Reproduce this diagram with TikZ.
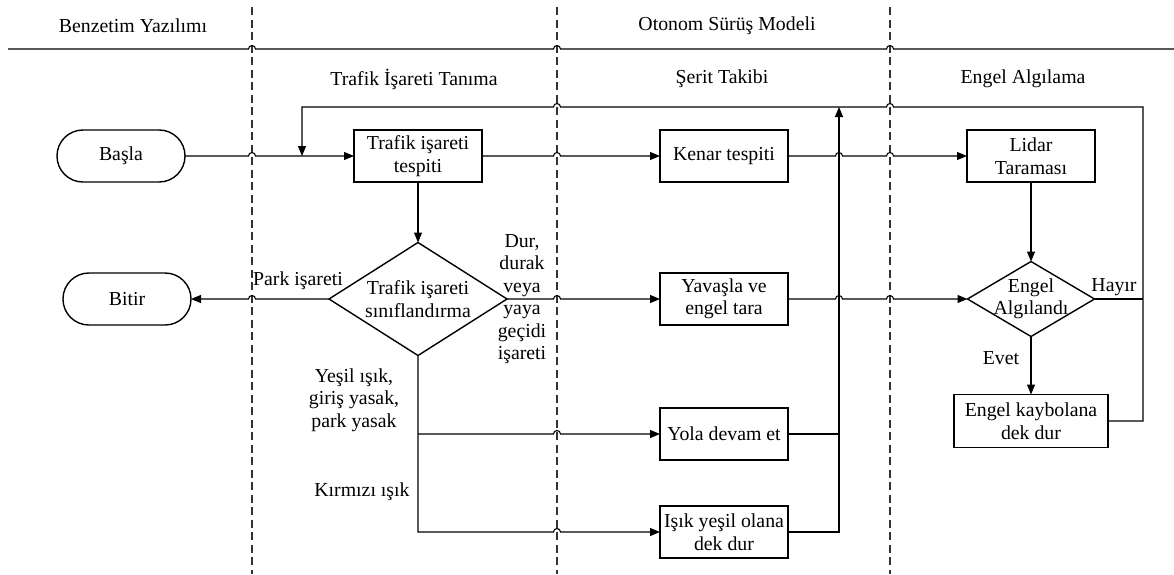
\documentclass[tikz,border=0pt]{standalone}
\usepackage{fontspec}
\setmainfont{Liberation Serif}
\usetikzlibrary{arrows.meta}
\newcommand\hopR[2]{-- (#1-3.5,#2) arc[start angle=180,end angle=0,radius=3.5pt]}
\newcommand\hopL[2]{-- (#1+3.5,#2) arc[start angle=0,end angle=180,radius=3.5pt]}
\begin{document}
\begin{tikzpicture}[x=1pt,y=-1pt,
  font=\fontsize{19.8}{22.5}\selectfont,
  box/.style={draw, line width=1.4pt, minimum width=128pt, minimum height=52pt, align=center, inner sep=2pt, outer sep=0pt},
  term/.style={box, rounded corners=25.9pt},
  dtext/.style={align=center, inner sep=0pt, outer sep=0pt},
  dline/.style={line width=1.4pt, line join=miter},
  ln/.style={line width=1.1pt},
  arr/.style={ln, -{Triangle[length=10pt,width=8pt]}},
  lane/.style={draw=black!80, line width=1.1pt, dash pattern=on 8pt off 4.5pt},
  lbl/.style={inner sep=0pt, align=center}]
\useasboundingbox (0,0) rectangle (1174,574);

% lanes
\draw[lane] (252,7) -- (252,574);
\draw[lane] (557,7) -- (557,574);
\draw[lane] (890,7) -- (890,574);
\draw[ln] (8,49) \hopR{252}{49} \hopR{557}{49} \hopR{890}{49} -- (1174,49);

% titles
\node[lbl] (t1) at (133,26) {Benzetim Yazılımı};
\node[lbl] (t2) at (727,26) {Otonom Sürüş Modeli};
\node[lbl] (t3) at (414,79) {Trafik İşareti Tanıma};
\node[lbl] (t4) at (722,79) {Şerit Takibi};
\node[lbl] (t5) at (1023,79) {Engel Algılama};

% nodes
\node[term] (basla) at (121,156) {Başla};
\node[term] (bitir) at (127,299) {Bitir};
\node[box] (tesp) at (418,156) {Trafik işareti\\tespiti};
\node[box] (kenar) at (724,156) {Kenar tespiti};
\node[box] (lidar) at (1031,156) {Lidar\\Taraması};
\node[box] (yav) at (724,299) {Yavaşla ve\\engel tara};
\node[box] (yola) at (724,434) {Yola devam et};
\node[box] (ilk) at (724,532) {Işık yeşil olana\\dek dur};
\node[box, minimum width=154pt, minimum height=53pt] (eng) at (1031,421) {Engel kaybolana\\dek dur};

\node[dtext, minimum width=178pt, minimum height=113pt] (d1) at (418,299) {Trafik işareti\\sınıflandırma};
\draw[dline] (d1.north) -- (d1.east) -- (d1.south) -- (d1.west) -- cycle;
\node[dtext, minimum width=127pt, minimum height=75pt] (d2) at (1031,299) {Engel\\Algılandı};
\draw[dline] (d2.north) -- (d2.east) -- (d2.south) -- (d2.west) -- cycle;

% junction coordinates
\coordinate (fbR) at (1143,107);
\coordinate (fbL) at (302,107);
\coordinate (up) at (839,107);

% connectors
\draw[arr] (basla.east) \hopR{252}{156} -- (tesp.west);
\draw[arr] (tesp.east) \hopR{557}{156} -- (kenar.west);
\draw[arr] (kenar.east) \hopR{839}{156} \hopR{890}{156} -- (lidar.west);
\draw[arr] (tesp.south) -- (d1.north);
\draw[arr] (d1.west) \hopL{252}{299} -- (bitir.east);
\draw[arr] (d1.east) \hopR{557}{299} -- (yav.west);
\draw[arr] (yav.east) \hopR{839}{299} \hopR{890}{299} -- (d2.west);
\draw[arr] (lidar.south) -- (d2.north);
\draw[arr] (d2.south) -- (eng.north);
\draw[ln] (d2.east) -- (d2.east -| fbR);
\draw[arr] (d1.south) -- (d1.south |- ilk.west) \hopR{557}{532} -- (ilk.west);
\draw[arr] (d1.south |- yola.west) \hopR{557}{434} -- (yola.west);
\draw[arr] (ilk.east) -- (ilk.east -| up) -- (up);
\draw[ln] (yola.east) -- (yola.east -| up);
\draw[arr] (eng.east) -- (eng.east -| fbR) -- (fbR) \hopL{890}{107} \hopL{557}{107} -- (fbL) -- (fbL |- basla.east);

% labels
\node[lbl] (lpark) at (298,281) {Park işareti};
\node[lbl] (ldur) at (522,299) {Dur,\\durak\\veya\\yaya\\geçidi\\işareti};
\node[lbl] (lyes) at (354,400) {Yeşil ışık,\\giriş yasak,\\park yasak};
\node[lbl] (lkir) at (362,492) {Kırmızı ışık};
\node[lbl] (levet) at (1001,358) {Evet};
\node[lbl] (lhay) at (1114,287) {Hayır};
\end{tikzpicture}
\end{document}
